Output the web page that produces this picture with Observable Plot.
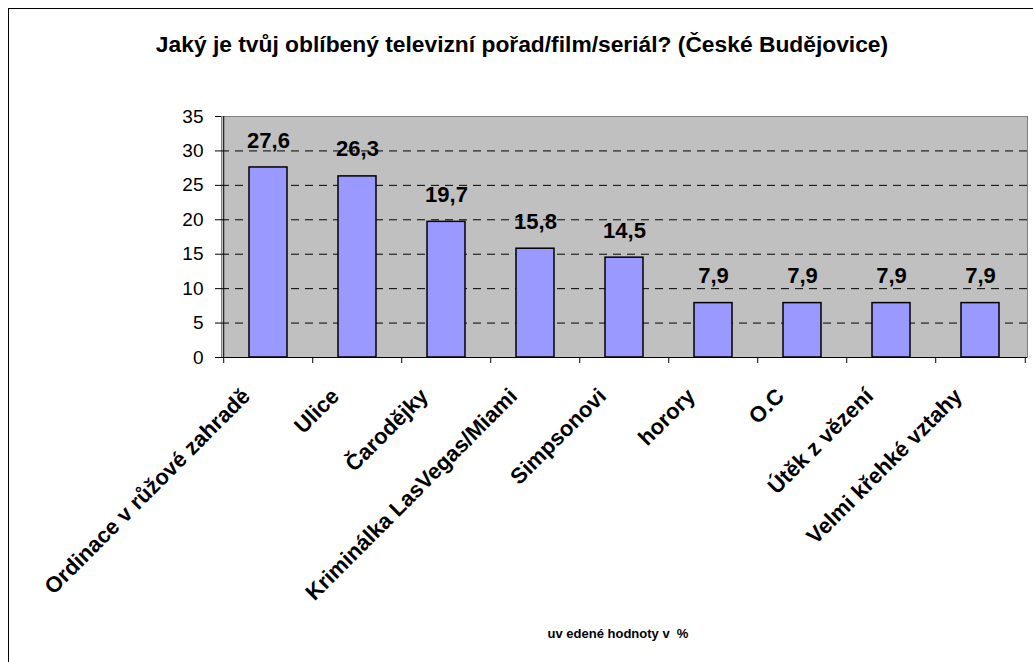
<!DOCTYPE html>
<html>
<head>
<meta charset="utf-8">
<script src="https://cdn.jsdelivr.net/npm/d3@7"></script>
<script src="https://cdn.jsdelivr.net/npm/@observablehq/plot@0.6"></script>
<style>
  html, body { margin: 0; padding: 0; background: #fff; }
  #wrap { position: relative; width: 1033px; height: 662px; overflow: hidden; font-family: "Liberation Sans", Arial, sans-serif; }
  #border { position: absolute; left: 8px; top: 8px; width: 1100px; height: 800px; border-left: 1px solid #000; border-top: 1px solid #000; }
  #title { position: absolute; left: 0; width: 1044px; top: 33px; text-align: center; font-weight: bold; font-size: 22.8px; line-height: 22px; color: #000; }
  #chart { position: absolute; left: 0; top: 70px; }
  #caption { position: absolute; left: 0; width: 1236px; top: 627px; text-align: center; font-weight: bold; font-size: 13px; line-height: 13px; white-space: pre; color: #000; }
</style>
</head>
<body>
<div id="wrap">
  <div id="border"></div>
  <div id="title"></div>
  <div id="chart"></div>
  <div id="caption"></div>
</div>
<script>
const titleText = "Jaký je tvůj oblíbený televizní pořad/film/seriál? (České Budějovice)";
const captionText = "uv edené hodnoty v  %";
const categories = ["Ordinace v růžové zahradě", "Ulice", "Čarodějky", "Kriminálka LasVegas/Miami", "Simpsonovi", "horory", "O.C", "Útěk z vězení", "Velmi křehké vztahy"];
const values = [27.6, 26.3, 19.7, 15.8, 14.5, 7.9, 7.9, 7.9, 7.9];
const yTicks = [0, 5, 10, 15, 20, 25, 30, 35];
const gridTicks = [5, 10, 15, 20, 25, 30];

document.getElementById("title").textContent = titleText;
document.getElementById("caption").textContent = captionText;

const data = categories.map((c, i) => ({cat: c, value: values[i], label: values[i].toFixed(1).replace(".", ",")}));

const W = 1033, H = 560, mL = 221, mR = 6, mT = 46, mB = 273;
const step = (W - mL - mR) / categories.length;

const chart = Plot.plot({
  width: W,
  height: H,
  marginLeft: mL,
  marginRight: mR,
  marginTop: mT,
  marginBottom: mB,
  style: {fontFamily: "'Liberation Sans', Arial, sans-serif", color: "#000", background: "transparent", overflow: "visible"},
  x: {domain: categories, paddingInner: 0.575, paddingOuter: 0.2875, label: null},
  y: {domain: [0, 35], label: null},
  marks: [
    Plot.frame({fill: "#c0c0c0", stroke: "#808080"}),
    Plot.gridY(gridTicks, {stroke: "#000", strokeOpacity: 1, strokeDasharray: "8,6"}),
    Plot.barY(data, {x: "cat", y: "value", fill: "#9999ff", stroke: "#000", strokeWidth: 1.5}),
    Plot.ruleY([0], {stroke: "#000"}),
    Plot.ruleX([categories[0]], {stroke: "#000", dx: -step / 2}),
    Plot.ruleX(categories, {y1: 0, y2: 0, insetBottom: -6, stroke: "#000", dx: -step / 2}),
    Plot.ruleX([categories[categories.length - 1]], {y1: 0, y2: 0, insetBottom: -6, stroke: "#000", dx: step / 2}),
    Plot.axisY({ticks: yTicks, tickSize: 6, tickPadding: 12, fontSize: 19, label: null}),
    Plot.text(data, {x: "cat", y: "value", text: "label", dy: -27, fontSize: 22, fontWeight: "bold"}),
    Plot.axisX({tickSize: 0, tickRotate: -45, tickPadding: 35, dx: -22, fontSize: 22, fontWeight: "bold", label: null})
  ]
});
document.getElementById("chart").appendChild(chart);
</script>
</body>
</html>
